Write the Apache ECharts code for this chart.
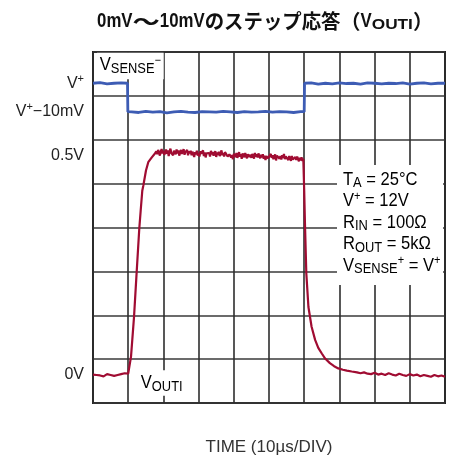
<!DOCTYPE html>
<html>
<head>
<meta charset="utf-8">
<script src="https://cdn.jsdelivr.net/npm/echarts@6/dist/echarts.min.js"></script>
<style>
html,body{margin:0;padding:0;background:#fff;}
#chart{width:459px;height:461px;}
</style>
</head>
<body>
<div id="chart"></div>
<script>
// Time base: 10 µs per division, 10 divisions
const timeMin = 0, timeMax = 100, timeStep = 10;

// VOUTI trace (V): baseline, rising edge
const vOutLeadT = [
  0,0.5,1,1.5,2,2.5,3,3.5,4,4.5,5,5.5,6,6.5,7,7.5,8,8.5,9,9.5,10,
  10.1,10.8,11.65,12.4,13.15,13.55,14.0,14.3,15.05,15.7,16.7,17.6
];
const vOutLeadV = [
  0.001,-0.002,0.000,0.002,-0.001,0.001,-0.003,0.000,0.002,-0.001,0.000,0.003,-0.002,0.001,0.000,-0.001,0.002,0.001,0.004,0.003,0.003,
  0.006,0.042,0.132,0.234,0.334,0.375,0.420,0.432,0.466,0.485,0.496,0.505
];

// VOUTI plateau, sampled every 0.25 µs from 18 µs
const plateauStart = 18, plateauPeriod = 0.25;
const vOutPlateauV = [
  0.510,0.503,0.513,0.508,0.500,0.509,0.515,0.505,0.511,0.502,0.507,0.514,0.504,0.512,0.499,0.509,0.516,0.506,0.510,0.501,
  0.511,0.508,0.503,0.514,0.505,0.512,0.500,0.507,0.513,0.504,0.509,0.515,0.502,0.508,0.506,0.513,0.501,0.510,0.505,0.511,
  0.501,0.509,0.505,0.497,0.508,0.503,0.511,0.500,0.506,0.498,0.510,0.504,0.502,0.512,0.499,0.507,0.496,0.505,0.509,0.501,
  0.506,0.498,0.511,0.503,0.508,0.500,0.504,0.510,0.497,0.507,0.502,0.509,0.499,0.505,0.512,0.501,0.506,0.498,0.508,0.504,
  0.505,0.498,0.494,0.503,0.507,0.496,0.501,0.492,0.504,0.502,0.497,0.506,0.495,0.500,0.508,0.498,0.503,0.493,0.505,0.501,
  0.496,0.506,0.499,0.494,0.503,0.507,0.497,0.502,0.495,0.504,0.500,0.493,0.506,0.498,0.503,0.496,0.505,0.499,0.494,0.502,
  0.496,0.503,0.493,0.500,0.490,0.499,0.502,0.494,0.498,0.491,0.504,0.495,0.501,0.492,0.497,0.503,0.489,0.500,0.496,0.502,
  0.493,0.499,0.491,0.501,0.495,0.504,0.492,0.498,0.494,0.502,0.490,0.499,
  0.496,0.488,0.499,0.491,0.494,0.487,0.497,0.490,0.498,0.492,0.487,0.495,0.489,0.496,0.488,0.493
];

// VOUTI falling edge and settled tail
const vOutTrailT = [
  60.0,60.2,60.6,61.2,62.1,63.1,64,65,66,67.3,68.5,69.7,71,72.1,73.5,75,
  76,77,78,79,80,81,82,83,84,85,86,87,88,89,90,91,92,93,94,95,96,97,98,99,100
];
const vOutTrailV = [
  0.420,0.350,0.232,0.155,0.110,0.080,0.062,0.049,0.037,0.027,0.020,0.015,0.012,0.010,0.008,0.006,
  0.004,0.006,0.003,0.002,0.005,0.001,0.003,0.000,0.004,0.001,-0.001,0.003,0.000,-0.002,0.002,-0.001,0.001,-0.003,0.000,-0.002,-0.004,0.000,-0.003,-0.001,-0.004
];

// VSENSE− trace (mV relative to V+)
const vSenseT = [
  0,2,4,6,8,9.8,
  9.9,11,13,15,17,19,21,23,25,27,29,31,33,35,37,39,41,43,45,47,49,51,53,55,57,59,60,
  60.1,62,64,66,68,70,72,74,76,78,80,82,84,86,88,90,92,94,96,98,100
];
const vSenseV = [
  0.0,0.2,-0.2,0.0,0.1,0.0,
  -10.0,-10.1,-10.3,-9.9,-10.2,-10.0,-10.4,-10.1,-9.9,-10.2,-10.3,-10.0,-10.1,-10.2,-9.9,-10.1,-10.3,-10.0,-10.2,-10.1,-9.9,-10.2,-10.0,-10.1,-10.3,-10.0,-10.0,
  0.0,0.1,-0.3,0.0,-0.2,0.1,-0.1,0.0,-0.3,0.1,0.0,-0.2,0.0,-0.1,0.1,-0.3,0.0,0.1,-0.2,0.0,0.0
];

// Vertical scales: 8 divisions, 0.1 V/div for VOUTI, ~15.45 mV/div for VSENSE−
const divCount = 8;
const vOutMin = -0.0638, vOutMax = 0.7362;
const vSenseMin = -112.6, vSenseMax = 11.0;
const vOutTicks = [0, 0.5];
const vSenseTicks = [-10, 0];

const LAT = "'Liberation Sans',Arial,sans-serif";
const CJK = "'Noto Sans CJK JP','Noto Sans CJK SC',sans-serif";
const INK = '#222';

const vOutData = []
  .concat(vOutLeadT.map((t, i) => [t, vOutLeadV[i]]))
  .concat(vOutPlateauV.map((v, i) => [plateauStart + i * plateauPeriod, v]))
  .concat(vOutTrailT.map((t, i) => [t, vOutTrailV[i]]));
const vSenseData = vSenseT.map((t, i) => [t, vSenseV[i]]);

// Title pieces laid out left to right with measured widths
const measureCtx = document.createElement('canvas').getContext('2d');
const titleParts = [
  {text: '0mV', family: LAT, size: 21, sx: 0.8, dy: 0},
  {text: '～', family: CJK, size: 21, sx: 1.3, dy: 0},
  {text: '10mV', family: LAT, size: 21, sx: 0.8, dy: 0},
  {text: 'のステップ応答', family: CJK, size: 20, sx: 0.97, dy: 0},
  {text: '（', family: CJK, size: 20, sx: 1, dy: 0},
  {text: 'V', family: LAT, size: 21, sx: 0.8, dy: 0},
  {text: 'OUTI', family: LAT, size: 15, sx: 1.15, dy: 4},
  {text: '）', family: CJK, size: 20, sx: 1, dy: 0}
];
const titleCenterX = 265, titleY = 21;
titleParts.forEach(p => {
  measureCtx.font = 'bold ' + p.size + 'px ' + p.family;
  p.w = measureCtx.measureText(p.text).width * p.sx;
});
const titleWidth = titleParts.reduce((s, p) => s + p.w, 0);
let cursor = titleCenterX - titleWidth / 2;
const titleGraphics = titleParts.map(p => {
  const el = {
    type: 'text', x: cursor, y: titleY + p.dy, scaleX: p.sx, z: 100, silent: true,
    style: {text: p.text, fontFamily: p.family, fontSize: p.size, fontWeight: 'bold',
            fill: '#111', align: 'left', verticalAlign: 'middle'}
  };
  cursor += p.w;
  return el;
});

const chart = echarts.init(document.getElementById('chart'), null, {renderer: 'canvas'});

const labelRich = {
  a: {fontFamily: LAT, fontSize: 16, color: INK, lineHeight: 20},
  p: {fontFamily: LAT, fontSize: 11, color: INK, lineHeight: 11, verticalAlign: 'top'}
};

const noteRich = {
  m: {fontFamily: LAT, fontSize: 18, color: INK, lineHeight: 21.5},
  b: {fontFamily: LAT, fontSize: 14, color: INK, lineHeight: 11.5, verticalAlign: 'bottom'},
  p: {fontFamily: LAT, fontSize: 12, color: INK, lineHeight: 12, verticalAlign: 'top'}
};
const noteScale = 0.92;

chart.setOption({
  animation: false,
  backgroundColor: '#fff',
  grid: {left: 93, right: 14, top: 52, bottom: 58, show: true, borderColor: '#222', borderWidth: 2, backgroundColor: 'transparent'},
  xAxis: {
    type: 'value', min: timeMin, max: timeMax, interval: timeStep,
    name: 'TIME (10µs/DIV)', nameLocation: 'middle', nameGap: 36,
    nameTextStyle: {fontFamily: LAT, fontSize: 17, color: '#333'},
    axisLine: {show: false}, axisTick: {show: false}, axisLabel: {show: false},
    splitLine: {show: true, lineStyle: {color: '#2e2e2e', width: 1.6}}
  },
  yAxis: [
    {
      type: 'value', min: 0, max: divCount, interval: 1,
      axisLine: {show: false}, axisTick: {show: false}, axisLabel: {show: false},
      splitLine: {show: true, lineStyle: {color: '#3a3a3a', width: 1.6}}
    },
    {
      type: 'value', min: vOutMin, max: vOutMax, position: 'left',
      axisLine: {show: false}, axisTick: {show: false}, splitLine: {show: false},
      axisLabel: {
        customValues: vOutTicks, margin: 9, fontFamily: LAT, fontSize: 16, color: INK,
        formatter: v => Math.abs(v) < 1e-9 ? '0V' : v + 'V'
      }
    },
    {
      type: 'value', min: vSenseMin, max: vSenseMax, position: 'left',
      axisLine: {show: false}, axisTick: {show: false}, splitLine: {show: false},
      axisLabel: {
        customValues: vSenseTicks, margin: 9, rich: labelRich,
        formatter: v => Math.abs(v) < 1e-9 ? '{a|V}{p|+}' : '{a|V}{p|+}{a|−10mV}'
      }
    }
  ],
  series: [
    {
      name: 'VSENSE−', type: 'line', yAxisIndex: 2, showSymbol: false, silent: true,
      data: vSenseData,
      lineStyle: {color: '#3d5cb4', width: 2.8}, z: 3
    },
    {
      name: 'VOUTI', type: 'line', yAxisIndex: 1, showSymbol: false, silent: true,
      data: vOutData,
      lineStyle: {color: '#a00c32', width: 2.2}, z: 4
    }
  ],
  graphic: titleGraphics.concat([
    {
      type: 'text', x: 97, y: 66, scaleX: noteScale, z: 100, silent: true,
      style: {
        text: '{m|V}{b|SENSE}{p|−}',
        align: 'left', verticalAlign: 'middle',
        backgroundColor: '#fff', padding: [2, 3, 3, 3],
        rich: noteRich
      }
    },
    {
      type: 'text', x: 138, y: 383, scaleX: noteScale, z: 100, silent: true,
      style: {
        text: '{m|V}{b|OUTI}',
        align: 'left', verticalAlign: 'middle',
        backgroundColor: '#fff', padding: [2, 3, 2, 3],
        rich: noteRich
      }
    },
    {
      type: 'rect', z: 99, silent: true,
      shape: {x: 337, y: 165, width: 106, height: 120},
      style: {fill: '#fff'}
    },
    {
      type: 'text', x: 343, y: 169, scaleX: noteScale, z: 100, silent: true,
      style: {
        text: [
          '{m|T}{b|A}{m| = 25°C}',
          '{m|V}{p|+}{m| = 12V}',
          '{m|R}{b|IN}{m| = 100Ω}',
          '{m|R}{b|OUT}{m| = 5kΩ}',
          '{m|V}{b|SENSE}{p|+}{m| = V}{p|+}'
        ].join('\n'),
        align: 'left', verticalAlign: 'top',
        rich: noteRich
      }
    }
  ])
});
</script>
</body>
</html>
